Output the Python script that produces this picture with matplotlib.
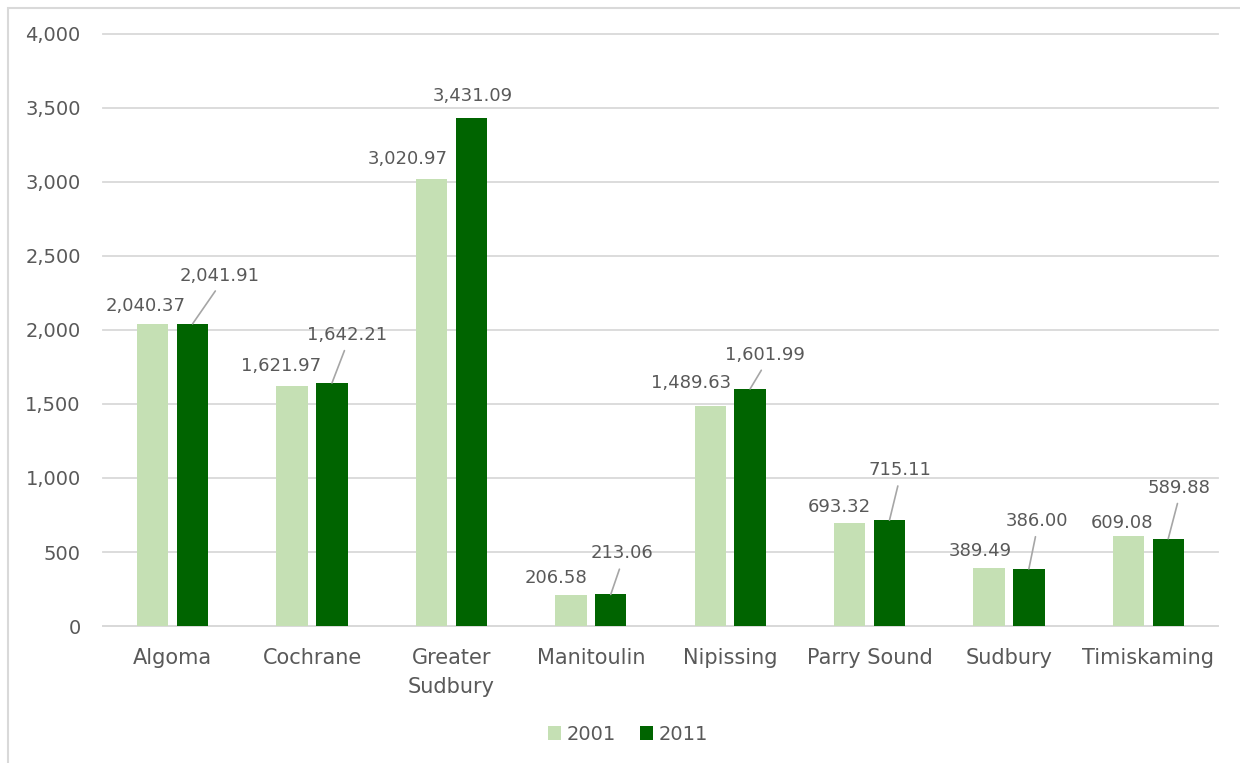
import matplotlib.pyplot as plt
from matplotlib.patches import Rectangle
from matplotlib.ticker import FuncFormatter
import numpy as np

categories = ['Algoma', 'Cochrane', 'Greater\nSudbury', 'Manitoulin', 'Nipissing',
              'Parry Sound', 'Sudbury', 'Timiskaming']
vals_2001 = [2040.37, 1621.97, 3020.97, 206.58, 1489.63, 693.32, 389.49, 609.08]
vals_2011 = [2041.91, 1642.21, 3431.09, 213.06, 1601.99, 715.11, 386.00, 589.88]

# label offsets in pixels (dx, dy) from top centre of each bar
off_2001 = [(-7, 18), (-11, 20), (-24, 20), (-15, 17), (-19, 23), (-10, 16), (-9, 17), (-6, 13)]
off_2011 = [(27, 48), (15, 48), (1, 22), (11, 41), (15, 34), (10, 50), (8, 48), (11, 51)]

c_light = '#c5e0b4'
c_dark = '#006400'
grey = '#595959'
gridc = '#d9d9d9'

plt.rcParams['font.family'] = ['DejaVu Sans']

fig = plt.figure(figsize=(12.4, 7.63), dpi=100)
ax = fig.add_axes([103 / 1240, 1 - 626 / 763, 1115 / 1240, 592 / 763])

# outer chart border (cut off at right / bottom like the source)
fig.patches.append(Rectangle((8 / 1240, -0.1), 1.2, 1.1 - 8 / 763,
                             transform=fig.transFigure, fill=False,
                             edgecolor=gridc, lw=1.5, zorder=0))

x = np.arange(len(categories))
w = 0.225
b1 = ax.bar(x - 0.143, vals_2001, w, color=c_light, label='2001', zorder=3)
b2 = ax.bar(x + 0.143, vals_2011, w, color=c_dark, label='2011', zorder=3)

ax.set_xlim(-0.5, len(categories) - 0.5)
ax.set_ylim(0, 4000)
ax.set_yticks(np.arange(0, 4001, 500))
ax.yaxis.set_major_formatter(FuncFormatter(lambda v, p: f'{v:,.0f}'))
ax.set_xticks(x)
ax.set_xticklabels(categories, fontsize=15, color=grey, linespacing=1.55)
ax.tick_params(axis='y', length=0, pad=16, labelsize=14, labelcolor=grey)
ax.tick_params(axis='x', length=0, pad=16)
ax.grid(axis='y', color=gridc, lw=1.3, zorder=0)
for gl in ax.get_ygridlines():
    gl.set_clip_on(False)
for s in ['top', 'right', 'left']:
    ax.spines[s].set_visible(False)
ax.spines['bottom'].set_color(gridc)
ax.spines['bottom'].set_linewidth(1.3)

for i, (r, v) in enumerate(zip(b1, vals_2001)):
    ax.annotate(f'{v:,.2f}', (r.get_x() + r.get_width() / 2, v),
                xytext=off_2001[i], textcoords='offset pixels',
                ha='center', va='center', fontsize=13, color=grey)

for i, (r, v) in enumerate(zip(b2, vals_2011)):
    dx, dy = off_2011[i]
    arrow = None
    if dy > 30:
        arrow = dict(arrowstyle='-', color='#a6a6a6', lw=1.2,
                     shrinkA=3, shrinkB=0, relpos=(0.5, 0))
    ax.annotate(f'{v:,.2f}', (r.get_x() + r.get_width() / 2, v),
                xytext=(dx, dy), textcoords='offset pixels',
                ha='center', va='center', fontsize=13, color=grey,
                arrowprops=arrow)

leg = fig.legend(loc='center', bbox_to_anchor=(628 / 1240, 1 - 734 / 763),
                 ncol=2, frameon=False, fontsize=14, handlelength=0.7,
                 handleheight=0.7, handletextpad=0.3, columnspacing=1.2)
for t in leg.get_texts():
    t.set_color(grey)

plt.savefig('out.png', dpi=100)
